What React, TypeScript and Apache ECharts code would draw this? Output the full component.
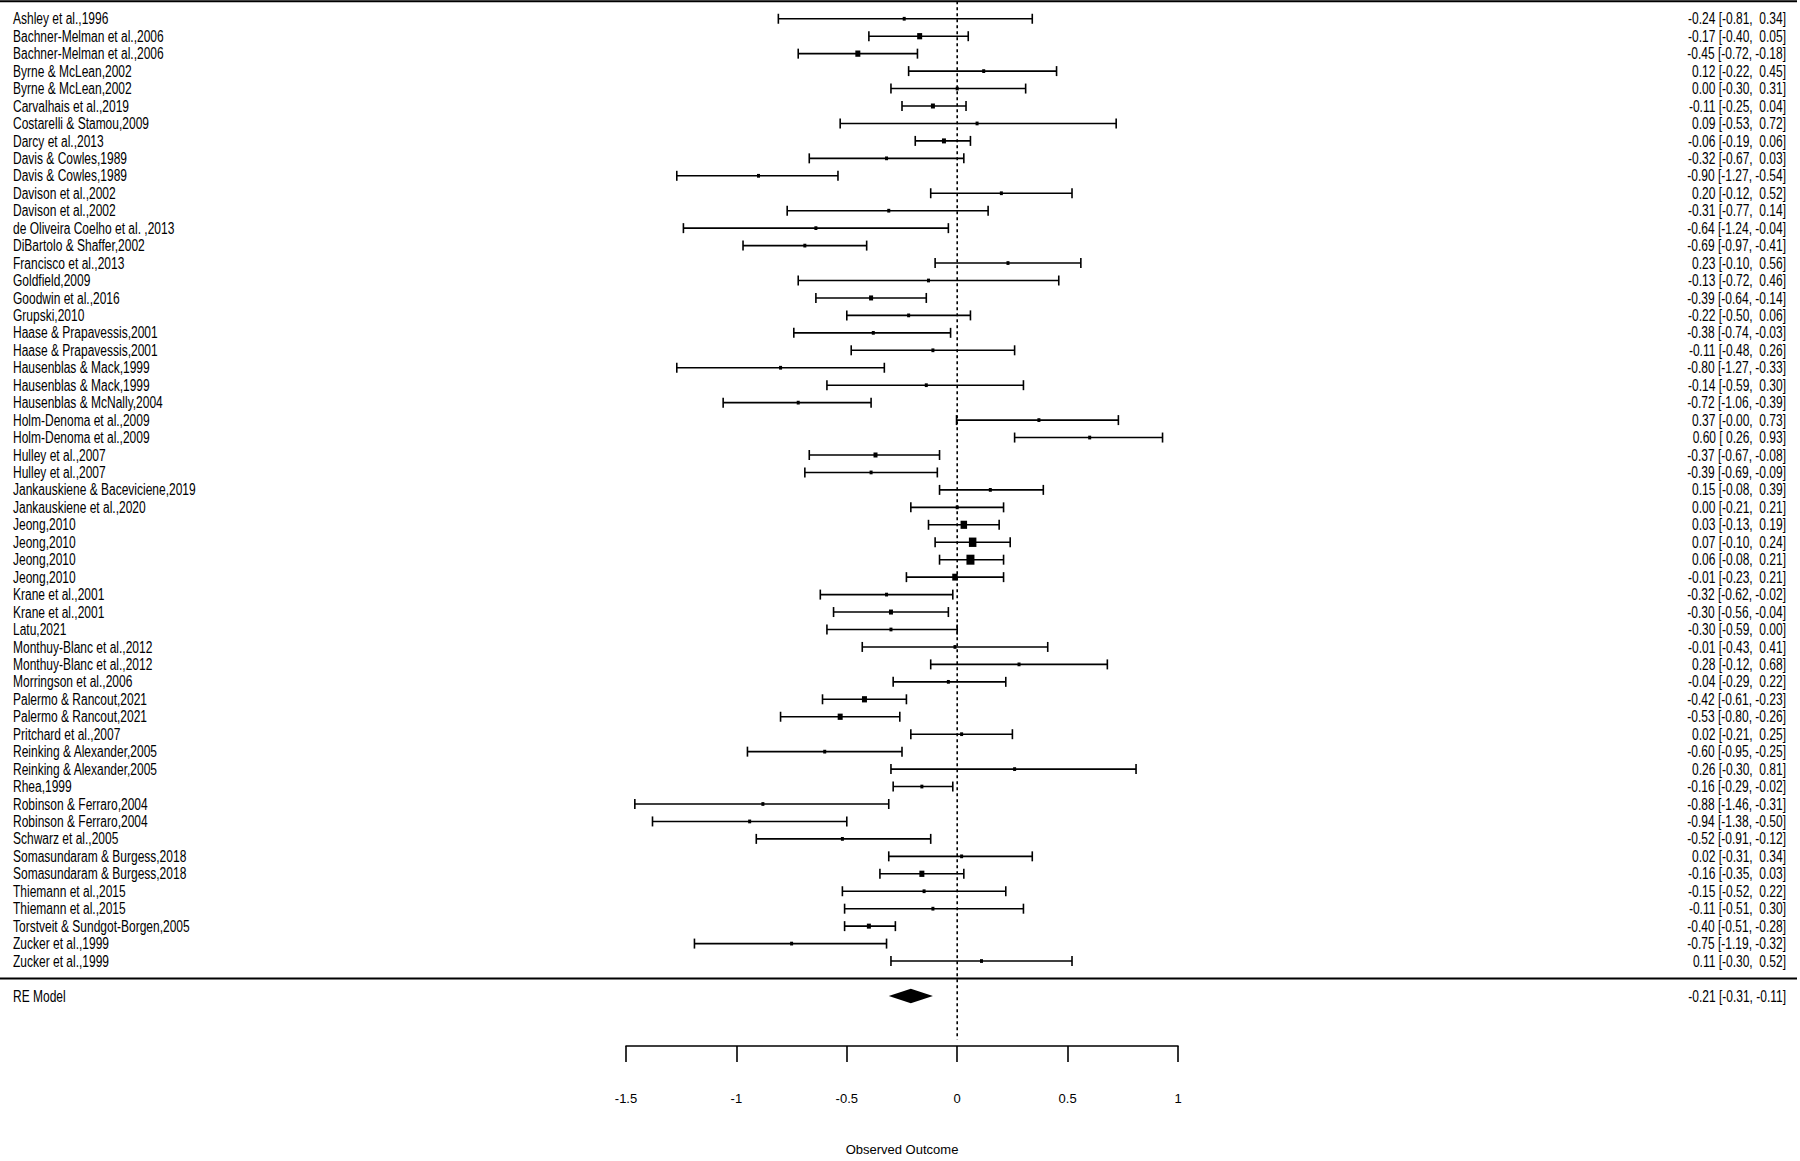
import React, { useEffect, useRef } from "react";
import * as echarts from "echarts";

const studyNames: string[] = [
  "Ashley et al.,1996",
  "Bachner-Melman et al.,2006",
  "Bachner-Melman et al.,2006",
  "Byrne & McLean,2002",
  "Byrne & McLean,2002",
  "Carvalhais et al.,2019",
  "Costarelli & Stamou,2009",
  "Darcy et al.,2013",
  "Davis & Cowles,1989",
  "Davis & Cowles,1989",
  "Davison et al.,2002",
  "Davison et al.,2002",
  "de Oliveira Coelho et al. ,2013",
  "DiBartolo & Shaffer,2002",
  "Francisco et al.,2013",
  "Goldfield,2009",
  "Goodwin et al.,2016",
  "Grupski,2010",
  "Haase & Prapavessis,2001",
  "Haase & Prapavessis,2001",
  "Hausenblas & Mack,1999",
  "Hausenblas & Mack,1999",
  "Hausenblas & McNally,2004",
  "Holm-Denoma et al.,2009",
  "Holm-Denoma et al.,2009",
  "Hulley et al.,2007",
  "Hulley et al.,2007",
  "Jankauskiene & Baceviciene,2019",
  "Jankauskiene et al.,2020",
  "Jeong,2010",
  "Jeong,2010",
  "Jeong,2010",
  "Jeong,2010",
  "Krane et al.,2001",
  "Krane et al.,2001",
  "Latu,2021",
  "Monthuy-Blanc et al.,2012",
  "Monthuy-Blanc et al.,2012",
  "Morringson et al.,2006",
  "Palermo & Rancout,2021",
  "Palermo & Rancout,2021",
  "Pritchard et al.,2007",
  "Reinking & Alexander,2005",
  "Reinking & Alexander,2005",
  "Rhea,1999",
  "Robinson & Ferraro,2004",
  "Robinson & Ferraro,2004",
  "Schwarz et al.,2005",
  "Somasundaram & Burgess,2018",
  "Somasundaram & Burgess,2018",
  "Thiemann et al.,2015",
  "Thiemann et al.,2015",
  "Torstveit & Sundgot-Borgen,2005",
  "Zucker et al.,1999",
  "Zucker et al.,1999",
];

const estimates: number[] = [
  -0.24, -0.17, -0.45, 0.12, 0.0, -0.11, 0.09, -0.06, -0.32, -0.9,
  0.2, -0.31, -0.64, -0.69, 0.23, -0.13, -0.39, -0.22, -0.38, -0.11,
  -0.8, -0.14, -0.72, 0.37, 0.6, -0.37, -0.39, 0.15, 0.0, 0.03,
  0.07, 0.06, -0.01, -0.32, -0.3, -0.3, -0.01, 0.28, -0.04, -0.42,
  -0.53, 0.02, -0.6, 0.26, -0.16, -0.88, -0.94, -0.52, 0.02, -0.16,
  -0.15, -0.11, -0.4, -0.75, 0.11,
];

const lowerCI: number[] = [
  -0.81, -0.4, -0.72, -0.22, -0.3, -0.25, -0.53, -0.19, -0.67, -1.27,
  -0.12, -0.77, -1.24, -0.97, -0.1, -0.72, -0.64, -0.5, -0.74, -0.48,
  -1.27, -0.59, -1.06, -0.003, 0.26, -0.67, -0.69, -0.08, -0.21, -0.13,
  -0.1, -0.08, -0.23, -0.62, -0.56, -0.59, -0.43, -0.12, -0.29, -0.61,
  -0.8, -0.21, -0.95, -0.3, -0.29, -1.46, -1.38, -0.91, -0.31, -0.35,
  -0.52, -0.51, -0.51, -1.19, -0.3,
];

const upperCI: number[] = [
  0.34, 0.05, -0.18, 0.45, 0.31, 0.04, 0.72, 0.06, 0.03, -0.54,
  0.52, 0.14, -0.04, -0.41, 0.56, 0.46, -0.14, 0.06, -0.03, 0.26,
  -0.33, 0.3, -0.39, 0.73, 0.93, -0.08, -0.09, 0.39, 0.21, 0.19,
  0.24, 0.21, 0.21, -0.02, -0.04, 0.0, 0.41, 0.68, 0.22, -0.23,
  -0.26, 0.25, -0.25, 0.81, -0.02, -0.31, -0.5, -0.12, 0.34, 0.03,
  0.22, 0.3, -0.28, -0.32, 0.52,
];

// marker (weight) sizes of the squares
const boxSizes: number[] = [
  3, 5, 5, 3, 3, 4, 3, 4, 3, 3,
  3, 3, 3, 3, 3, 3, 4, 3, 3, 3,
  3, 3, 3, 3, 3, 4, 3, 3, 3, 6.5,
  7.5, 8, 5.5, 3, 4, 3, 3, 3, 3, 5,
  5, 3, 3, 3, 3, 3, 3, 3, 3, 5,
  3, 3, 4, 3, 3,
];

const summaryLabel = "RE Model";
const summaryEstimate = -0.21;
const summaryLower = -0.31;
const summaryUpper = -0.11;

const xTickMin = -1.5;
const xTickMax = 1;
const xTickInterval = 0.5;
const axisTitle = "Observed Outcome";

const FONT = "'Liberation Sans', Arial, sans-serif";
const FONT_SIZE = 12;
const TEXT_STRETCH = 1.3;

const fmt = (v: number) => {
  const s = v.toFixed(2);
  return s.startsWith("-") ? s : "\u00A0" + s;
};
const ciText = (e: number, l: number, u: number) => `${fmt(e)} [${fmt(l)}, ${fmt(u)}]`;

export default function App() {
  const ref = useRef<HTMLDivElement>(null);
  useEffect(() => {
    if (!ref.current) return;
    const chart = echarts.init(ref.current, undefined, { renderer: "svg" });
    const N = studyNames.length;
    const studyData = studyNames.map((_, i) => [
      estimates[i],
      N - i,
      lowerCI[i],
      upperCI[i],
      boxSizes[i],
    ]);
    const textEl = (text: string, align: string, x: number, y: number) => ({
      type: "text",
      x,
      y,
      scaleY: TEXT_STRETCH,
      style: {
        text,
        fill: "#000",
        fontSize: FONT_SIZE,
        fontFamily: FONT,
        align,
        verticalAlign: "middle",
      },
    });

    const option: any = {
      animation: false,
      backgroundColor: "#fff",
      grid: { left: 626, right: 622, top: 1.3, bottom: 106 },
      xAxis: {
        type: "value",
        min: xTickMin,
        max: xTickMax,
        interval: xTickInterval,
        splitLine: { show: false },
        axisLine: { show: true, onZero: false, lineStyle: { color: "#000", width: 1.6 } },
        axisTick: { show: true, length: 16, lineStyle: { color: "#000", width: 1.6 } },
        axisLabel: {
          color: "#000",
          fontSize: 13,
          fontFamily: FONT,
          margin: 46,
        },
        name: axisTitle,
        nameLocation: "middle",
        nameGap: 97,
        nameTextStyle: { color: "#000", fontSize: 13, fontFamily: FONT },
      },
      yAxis: {
        type: "value",
        min: -3.869,
        max: 56,
        show: false,
      },
      series: [
        {
          type: "line",
          data: [
            [0, 56],
            [0, -3.5],
          ],
          symbol: "none",
          lineStyle: { color: "#000", width: 1.6, type: [3, 3] },
          silent: true,
        },
        {
          type: "custom",
          clip: false,
          silent: true,
          data: [
            [0, 56],
            [0, 0],
          ],
          renderItem: (params: any, api: any) => {
            const p = api.coord([0, api.value(1)]);
            return {
              type: "line",
              shape: { x1: 0, y1: p[1], x2: 1797, y2: p[1] },
              style: { stroke: "#000", lineWidth: 1.9 },
            };
          },
        },
        {
          type: "custom",
          clip: false,
          silent: true,
          data: studyData,
          renderItem: (params: any, api: any) => {
            const i = params.dataIndex;
            const y = api.value(1);
            const pe = api.coord([api.value(0), y]);
            const pl = api.coord([api.value(2), y]);
            const ph = api.coord([api.value(3), y]);
            const s = api.value(4);
            const py = pe[1];
            const ls = { stroke: "#000", lineWidth: 1.6 };
            const cap = 5;
            return {
              type: "group",
              children: [
                { type: "line", shape: { x1: pl[0], y1: py, x2: ph[0], y2: py }, style: ls },
                { type: "line", shape: { x1: pl[0], y1: py - cap, x2: pl[0], y2: py + cap }, style: ls },
                { type: "line", shape: { x1: ph[0], y1: py - cap, x2: ph[0], y2: py + cap }, style: ls },
                {
                  type: "rect",
                  shape: { x: pe[0] - s / 2, y: py - (s * 1.25) / 2, width: s, height: s * 1.25 },
                  style: { fill: "#000" },
                },
                textEl(studyNames[i], "left", 13, py),
                textEl(ciText(estimates[i], lowerCI[i], upperCI[i]), "right", 1786, py),
              ],
            };
          },
        },
        {
          type: "custom",
          clip: false,
          silent: true,
          data: [[summaryEstimate, -1, summaryLower, summaryUpper]],
          renderItem: (params: any, api: any) => {
            const y = api.value(1);
            const pe = api.coord([api.value(0), y]);
            const pl = api.coord([api.value(2), y]);
            const ph = api.coord([api.value(3), y]);
            const h = 7.2;
            return {
              type: "group",
              children: [
                {
                  type: "polygon",
                  shape: {
                    points: [
                      [pl[0], pe[1]],
                      [pe[0], pe[1] - h],
                      [ph[0], pe[1]],
                      [pe[0], pe[1] + h],
                    ],
                  },
                  style: { fill: "#000" },
                },
                textEl(summaryLabel, "left", 13, pe[1]),
                textEl(ciText(summaryEstimate, summaryLower, summaryUpper), "right", 1786, pe[1]),
              ],
            };
          },
        },
      ],
    };
    chart.setOption(option);
    return () => chart.dispose();
  }, []);
  return (
    <div
      ref={ref}
      style={{ position: "fixed", left: 0, top: 0, width: 1800, height: 1161, background: "#fff" }}
    />
  );
}
